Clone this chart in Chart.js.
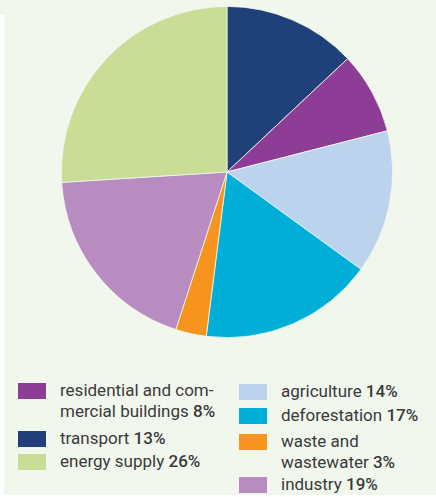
<!DOCTYPE html>
<html>
<head>
<meta charset="utf-8">
<script src="https://cdn.jsdelivr.net/npm/chart.js@4.4.0/dist/chart.umd.min.js"></script>
<style>
  html, body { margin: 0; padding: 0; }
  body { width: 436px; height: 497px; background: #f2f7ee; position: relative; overflow: hidden;
         font-family: Roboto, "Liberation Sans", Arial, sans-serif; color: #3a3a3a; }
  #edgeL { position: absolute; left: 0; top: 15px; width: 4px; bottom: 0; background: #fff; }
  #edgeB { position: absolute; left: 0; right: 0; bottom: 0; height: 2px; background: #fff; }
  #pieWrap { position: absolute; left: 61px; top: 6px; width: 332px; height: 332px; }
  .item { position: absolute; font-size: 17px; line-height: 21px; white-space: pre; }
  .item .sw { position: absolute; left: -42px; top: 3px; width: 28px; height: 16px; }
  .item b { font-weight: 500; }
</style>
</head>
<body>
<div id="edgeL"></div><div id="edgeB"></div>
<div id="pieWrap"><canvas id="pie"></canvas></div>
<div id="legend"></div>
<script>
// ── data (clockwise from 12 o'clock) ──
var labels = ['transport', 'residential and commercial buildings', 'agriculture', 'deforestation',
              'waste and wastewater', 'industry', 'energy supply'];
var shares = [13, 8, 14, 17, 3, 19, 26];
var colors = ['#20407a', '#8e3d97', '#bcd3ee', '#00afd8', '#f7941d', '#b88cc0', '#c9dd97'];

// legend text as printed (with the original line breaks)
var legendText = ['transport', 'residential and com-\nmercial buildings', 'agriculture', 'deforestation',
                  'waste and\nwastewater', 'industry', 'energy supply'];
// legend order: left column then right column
var legendLeft = [1, 0, 6];
var legendRight = [2, 3, 4, 5];

new Chart(document.getElementById('pie'), {
  type: 'pie',
  data: {
    labels: labels,
    datasets: [{
      data: shares,
      backgroundColor: colors,
      borderColor: '#f2f7ee',
      borderWidth: 0.8
    }]
  },
  options: {
    responsive: true,
    maintainAspectRatio: false,
    animation: false,
    layout: { padding: 0 },
    plugins: { legend: { display: false }, tooltip: { enabled: false } }
  }
});

// ── legend (html) ──
function addItem(i, x, y) {
  var div = document.createElement('div');
  div.className = 'item';
  div.style.left = x + 'px';
  div.style.top = y + 'px';
  var sw = document.createElement('span');
  sw.className = 'sw';
  sw.style.background = colors[i];
  div.appendChild(sw);
  div.appendChild(document.createTextNode(legendText[i] + ' '));
  var b = document.createElement('b');
  b.textContent = shares[i] + '%';
  div.appendChild(b);
  document.getElementById('legend').appendChild(div);
}
var leftY = [380, 428, 451];
var rightY = [381, 405, 431, 474];
legendLeft.forEach(function (i, k) { addItem(i, 60, leftY[k]); });
legendRight.forEach(function (i, k) { addItem(i, 281, rightY[k]); });
</script>
</body>
</html>
